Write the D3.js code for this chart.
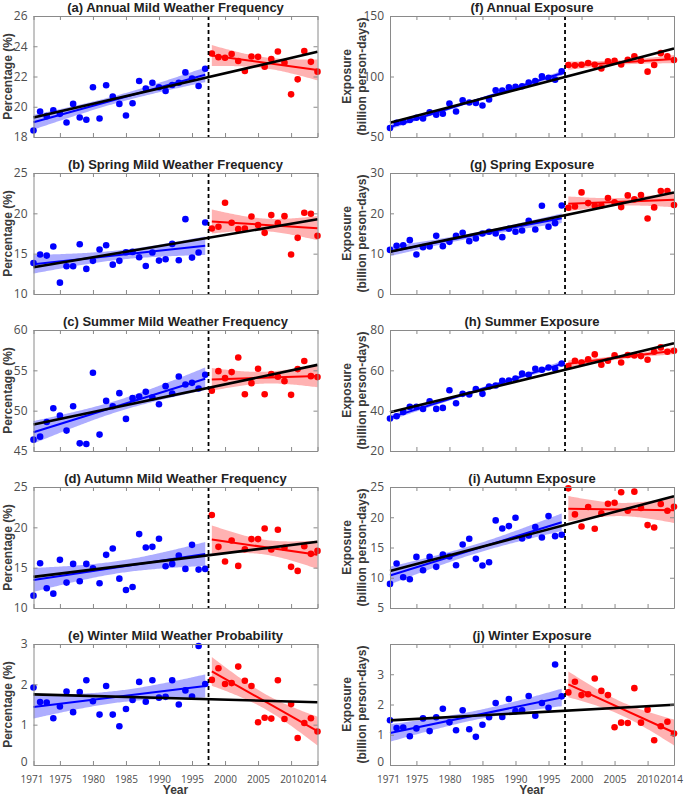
<!DOCTYPE html>
<meta charset="utf-8">
<script src="https://d3js.org/d3.v7.min.js"></script>
<style>
  body { margin: 0; background: #fff; }
  .tick text { font-family: "Open Sans", sans-serif; fill: #4d4d4d; }
</style>
<div id="chart"></div>
<script>
// years 1971-2014, break between 1997 and 1998
const years = d3.range(1971, 2015);
const breakYear = 1997.5;

// mild weather frequency (%)
const annualFreq = [18.43,19.68,19.38,19.77,19.53,18.96,20.19,19.29,19.14,21.29,19.22,21.42,20.67,20.19,19.42,20.23,21.70,21.20,21.59,21.29,21.04,21.44,21.59,22.27,21.86,21.37,22.51,
  23.52,23.28,23.24,23.48,23.02,22.36,23.32,23.30,22.64,23.15,23.65,22.91,20.82,21.81,23.68,22.97,22.32];
const springFreq = [13.85,14.89,14.76,15.88,11.41,13.44,13.44,16.17,13.11,14.11,15.52,16.05,13.64,14.11,15.18,15.22,14.56,13.48,15.14,14.14,14.31,16.21,14.18,19.28,14.51,15.14,18.87,
  18.12,18.33,21.31,18.83,18.04,18.12,19.61,18.54,17.58,19.78,18.78,19.65,14.89,16.96,20.07,19.94,17.21];
const summerFreq = [46.41,46.78,48.60,50.30,49.39,47.53,50.55,45.95,45.87,54.70,47.03,51.21,50.55,52.17,48.98,51.55,51.75,52.33,51.63,50.80,53.04,52.13,54.24,53.24,53.45,52.75,54.45,
  52.46,54.90,54.03,54.78,56.60,52.04,53.41,55.19,52.04,54.53,54.20,53.66,51.96,55.15,56.15,54.28,54.16];
const autumnFreq = [11.53,15.55,12.44,11.78,15.97,13.15,15.47,13.31,15.47,14.93,13.06,16.59,17.37,13.64,12.24,12.61,19.16,17.50,17.58,18.58,15.18,15.47,16.50,14.85,17.83,14.76,14.85,
  21.52,17.58,15.76,18.37,15.22,17.29,18.54,18.54,19.86,17.25,19.70,17.46,15.10,14.60,17.66,16.71,17.08];
const winterProb = [1.92,1.56,1.55,1.16,1.45,1.82,1.31,1.81,2.10,1.58,1.25,1.96,1.25,0.96,1.39,1.61,2.06,1.57,2.10,1.67,1.69,2.10,1.50,1.85,1.70,2.95,2.01,
  2.11,2.40,2.01,2.03,2.44,2.09,1.96,1.06,1.17,1.15,2.10,1.14,1.51,0.67,1.04,1.16,0.83];

// exposure (billion person-days)
const annualExp = [57.4,61.8,62.3,64.0,65.9,65.3,70.5,68.4,69.2,77.7,71.1,80.4,78.5,78.2,76.0,81.0,88.6,88.4,91.1,91.4,91.9,94.9,96.3,100.1,99.0,97.4,104.2,
  109.5,109.2,109.7,111.1,109.7,106.7,112.5,113.0,110.0,113.8,116.6,113.0,104.0,109.5,119.3,116.6,113.6];
const springExp = [10.94,11.94,12.10,13.35,9.78,11.61,11.77,14.42,11.86,12.93,14.42,15.17,13.10,13.76,15.00,15.42,15.00,14.09,16.16,15.42,15.75,18.15,16.00,21.88,16.66,17.57,21.96,
  21.38,21.71,25.19,22.54,21.88,21.96,23.79,22.71,21.55,24.45,23.45,24.53,18.73,21.47,25.53,25.53,22.05];
const summerExp = [36.08,37.24,39.39,41.88,41.88,40.88,44.69,40.88,41.38,50.16,43.70,48.34,48.01,50.66,48.34,51.99,52.48,54.81,54.97,55.97,58.45,57.79,60.77,60.28,61.44,60.77,63.42,
  62.10,64.75,63.92,65.41,67.90,62.76,64.75,67.40,63.92,67.57,67.40,67.07,65.25,69.23,71.38,69.23,69.72];
const autumnExp = [8.98,12.35,10.08,9.75,13.45,11.24,13.45,11.80,13.84,13.51,12.07,15.50,16.44,13.12,12.02,12.57,19.48,18.15,18.54,19.92,16.49,16.99,18.37,16.66,20.19,16.88,17.10,
  24.78,20.47,18.48,21.69,18.09,20.64,22.24,22.40,24.12,21.08,24.23,21.52,18.70,18.31,22.18,21.08,21.74];
const winterExp = [1.48,1.22,1.24,0.95,1.21,1.54,1.12,1.58,1.86,1.41,1.15,1.81,1.18,0.93,1.33,1.58,2.05,1.59,2.18,1.78,1.81,2.28,1.63,2.05,1.89,3.32,2.27,
  2.40,2.75,2.31,2.34,2.86,2.45,2.31,1.25,1.40,1.39,2.54,1.40,1.83,0.82,1.28,1.43,1.04];

const xTicks = [1971, 1975, 1980, 1985, 1990, 1995, 2000, 2005, 2010, 2014];

const panels = [
  {col: 0, row: 0, title: "(a) Annual Mild Weather Frequency", values: annualFreq, domain: [18, 26], ticks: [18, 20, 22, 24, 26]},
  {col: 0, row: 1, title: "(b) Spring Mild Weather Frequency", values: springFreq, domain: [10, 25], ticks: [10, 15, 20, 25]},
  {col: 0, row: 2, title: "(c) Summer Mild Weather Frequency", values: summerFreq, domain: [45, 60], ticks: [45, 50, 55, 60]},
  {col: 0, row: 3, title: "(d) Autumn Mild Weather Frequency", values: autumnFreq, domain: [10, 25], ticks: [10, 15, 20, 25]},
  {col: 0, row: 4, title: "(e) Winter Mild Weather Probability", values: winterProb, domain: [0, 3], ticks: [0, 1, 2, 3]},
  {col: 1, row: 0, title: "(f) Annual Exposure", values: annualExp, domain: [50, 150], ticks: [50, 100, 150]},
  {col: 1, row: 1, title: "(g) Spring Exposure", values: springExp, domain: [0, 30], ticks: [0, 10, 20, 30]},
  {col: 1, row: 2, title: "(h) Summer Exposure", values: summerExp, domain: [20, 80], ticks: [20, 40, 60, 80]},
  {col: 1, row: 3, title: "(i) Autumn Exposure", values: autumnExp, domain: [5, 25], ticks: [5, 10, 15, 20, 25]},
  {col: 1, row: 4, title: "(j) Winter Exposure", values: winterExp, domain: [0, 4], ticks: [0, 1, 2, 3]}
];

const W = 685, H = 796;
const colLeft = [33.5, 390], plotW = 284;
const rowTop = 16, rowStep = 157, plotH = 121;

const svg = d3.select("#chart").append("svg")
  .attr("width", W).attr("height", H);

// least squares fit with 95% confidence band of the mean
function fit(xs, ys) {
  const n = xs.length, mx = d3.mean(xs), my = d3.mean(ys);
  const sxx = d3.sum(xs, x => (x - mx) ** 2);
  const b = d3.sum(xs, (x, i) => (x - mx) * (ys[i] - my)) / sxx;
  const a = my - b * mx;
  const s = Math.sqrt(d3.sum(xs, (x, i) => (ys[i] - a - b * x) ** 2) / (n - 2));
  const t = n === 27 ? 2.0595 : n === 17 ? 2.1314 : 2.018;
  return {
    y: x => a + b * x,
    ci: x => t * s * Math.sqrt(1 / n + (x - mx) ** 2 / sxx),
    x0: d3.min(xs), x1: d3.max(xs)
  };
}

panels.forEach(p => {
  const left = colLeft[p.col], top = rowTop + p.row * rowStep;
  const g = svg.append("g").attr("transform", `translate(${left},${top})`);

  const x = d3.scaleLinear().domain([1971, 2014]).range([0, plotW]);
  const y = d3.scaleLinear().domain(p.domain).range([plotH, 0]);

  const pts = years.map((yr, i) => ({yr, v: p.values[i]}));
  const before = pts.filter(d => d.yr < breakYear);
  const after = pts.filter(d => d.yr > breakYear);

  const segs = [
    {data: before, line: "#0000ff", band: "rgba(0,0,255,0.32)"},
    {data: after, line: "#ff0000", band: "rgba(255,0,0,0.3)"}
  ];
  segs.forEach(s => {
    s.f = fit(s.data.map(d => d.yr), s.data.map(d => d.v));
    const xs = d3.range(s.f.x0, s.f.x1 + 0.001, 0.25);
    g.append("path")
      .datum(xs)
      .attr("fill", s.band)
      .attr("d", d3.area()
        .x(d => x(d))
        .y0(d => y(s.f.y(d) - s.f.ci(d)))
        .y1(d => y(s.f.y(d) + s.f.ci(d))));
  });

  segs.forEach(s => {
    g.selectAll(null)
      .data(s.data)
      .join("circle")
      .attr("cx", d => x(d.yr))
      .attr("cy", d => y(d.v))
      .attr("r", 3.3)
      .attr("fill", s.line);
  });

  segs.forEach(s => {
    g.append("line")
      .attr("x1", x(s.f.x0)).attr("x2", x(s.f.x1))
      .attr("y1", y(s.f.y(s.f.x0))).attr("y2", y(s.f.y(s.f.x1)))
      .attr("stroke", s.line).attr("stroke-width", 2);
  });

  // trend over whole period
  const all = fit(years, p.values);
  g.append("line")
    .attr("x1", x(1971)).attr("x2", x(2014))
    .attr("y1", y(all.y(1971))).attr("y2", y(all.y(2014)))
    .attr("stroke", "#000").attr("stroke-width", 2.6);

  // break line
  g.append("line")
    .attr("x1", x(breakYear)).attr("x2", x(breakYear))
    .attr("y1", 0).attr("y2", plotH)
    .attr("stroke", "#000").attr("stroke-width", 1.8)
    .attr("stroke-dasharray", "4,3");

  // axes, matlab-like box with inward ticks
  const bottom = d3.axisBottom(x).tickValues(xTicks).tickSizeInner(-4).tickSizeOuter(0)
    .tickPadding(11).tickFormat(p.row === 4 ? d3.format("d") : "");
  const topAx = d3.axisTop(x).tickValues(xTicks).tickSizeInner(-4).tickSizeOuter(0).tickFormat("");
  const leftAx = d3.axisLeft(y).tickValues(p.ticks).tickSizeInner(-4).tickSizeOuter(0)
    .tickPadding(6).tickFormat(d3.format("~g"));
  const rightAx = d3.axisRight(y).tickValues(p.ticks).tickSizeInner(-4).tickSizeOuter(0).tickFormat("");

  const axes = [
    g.append("g").attr("transform", `translate(0,${plotH})`).call(bottom),
    g.append("g").call(topAx),
    g.append("g").call(leftAx),
    g.append("g").attr("transform", `translate(${plotW},0)`).call(rightAx)
  ];
  axes.forEach(a => {
    a.selectAll("path, line").attr("stroke", "#8a8a8a");
    a.selectAll("text").style("font-size", "12px");
  });
  axes[0].selectAll("text").style("font-size", "10px")
    .attr("dx", d => d === 2014 ? -3 : d === 1971 ? -2 : 0);
  if (p.row === 4) {
    axes[2].selectAll("text").filter(d => d === p.domain[0]).attr("y", -3);
  }

  g.append("text")
    .attr("x", plotW / 2).attr("y", -4)
    .attr("text-anchor", "middle")
    .style("font-family", "Liberation Sans, Arial, sans-serif")
    .style("font-weight", "bold").style("font-size", "13px")
    .attr("fill", "#222")
    .text(p.title);

  // y labels
  const lab = svg.append("g").attr("fill", "#3a3a3a")
    .style("font-family", "Liberation Sans, Arial, sans-serif")
    .style("font-weight", "bold").style("font-size", "12px");
  if (p.col === 0) {
    lab.append("text")
      .attr("transform", `translate(12,${top + plotH / 2}) rotate(-90)`)
      .attr("text-anchor", "middle")
      .text("Percentage (%)");
  } else {
    lab.append("text")
      .attr("transform", `translate(351,${top + plotH / 2}) rotate(-90)`)
      .attr("text-anchor", "middle")
      .text("Exposure");
    lab.append("text")
      .attr("transform", `translate(366,${top + plotH / 2}) rotate(-90)`)
      .attr("text-anchor", "middle")
      .text("(billion person-days)");
  }

  if (p.row === 4) {
    svg.append("text")
      .attr("x", left + plotW / 2).attr("y", top + plotH + 29)
      .attr("text-anchor", "middle")
      .style("font-family", "Liberation Sans, Arial, sans-serif")
      .style("font-weight", "bold").style("font-size", "12px")
      .attr("fill", "#3a3a3a")
      .text("Year");
  }
});
</script>
